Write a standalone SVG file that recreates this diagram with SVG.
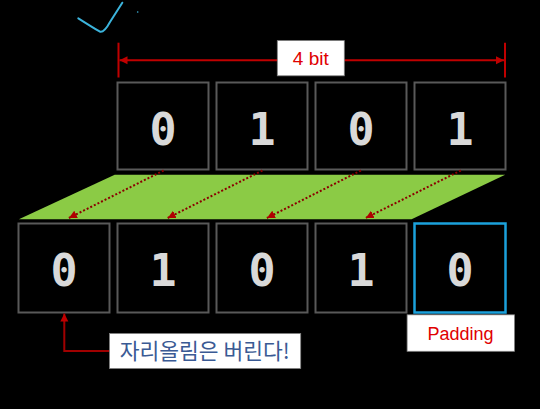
<svg xmlns="http://www.w3.org/2000/svg" width="540" height="409" viewBox="0 0 540 409">
<defs>
<style>
.box{fill:#000;stroke:#595959;stroke-width:2}
.pad{fill:#000;stroke:#1BA1DC;stroke-width:2.5}
.dig{font-family:"DejaVu Sans Mono","Liberation Mono",monospace;font-weight:bold;font-size:45px;fill:#D9D9D9;text-anchor:middle}
.shift{stroke:#8B0000;stroke-width:2;stroke-dasharray:2 2;fill:none}
.lbl{fill:#fff;stroke:#7F7F7F;stroke-width:0.8}
</style>
<marker id="dimA" viewBox="0 0 10 10" refX="10" refY="5" markerWidth="8" markerHeight="10" orient="auto" markerUnits="userSpaceOnUse">
<path d="M0,0 L10,5 L0,10 z" fill="#C00000"/>
</marker>
<marker id="shA" viewBox="0 0 10 10" refX="10" refY="5" markerWidth="8" markerHeight="10" orient="auto" markerUnits="userSpaceOnUse">
<path d="M0,0 L10,5 L0,10 z" fill="#B00000"/>
</marker>
</defs>
<rect width="540" height="409" fill="#000"/>

<g id="checkmark">
<path d="M78.3,18.3 Q92,27 100,31.7 Q104,33 110,22 L122.3,2.7" fill="none" stroke="#3CB4DC" stroke-width="2" stroke-linecap="round"/>
<circle cx="137.7" cy="12" r="0.8" fill="#3CB4DC"/>
</g>

<g id="shift-plane">
<polygon points="114.7,174.8 505.2,174.8 411.6,219.2 18.9,219.2" fill="#8BCB45"/>
</g>

<g id="top-row">
<g id="top0"><rect class="box" x="117.5" y="82.5" width="91" height="87"/><text class="dig" x="163" y="144.5">0</text></g>
<g id="top1"><rect class="box" x="216.5" y="82.5" width="91" height="87"/><text class="dig" x="262" y="144.5">1</text></g>
<g id="top2"><rect class="box" x="315.5" y="82.5" width="91" height="87"/><text class="dig" x="361" y="144.5">0</text></g>
<g id="top3"><rect class="box" x="414.5" y="82.5" width="91" height="87"/><text class="dig" x="460" y="144.5">1</text></g>
</g>

<g id="bottom-row">
<g id="bot0"><rect class="box" x="18.5" y="223.5" width="91" height="89"/><text class="dig" x="64" y="285.5">0</text></g>
<g id="bot1"><rect class="box" x="117.5" y="223.5" width="91" height="89"/><text class="dig" x="163" y="285.5">1</text></g>
<g id="bot2"><rect class="box" x="216.5" y="223.5" width="91" height="89"/><text class="dig" x="262" y="285.5">0</text></g>
<g id="bot3"><rect class="box" x="315.5" y="223.5" width="91" height="89"/><text class="dig" x="361" y="285.5">1</text></g>
<g id="bot4"><rect class="pad" x="414.5" y="223.5" width="91" height="89"/><text class="dig" x="460" y="285.5">0</text></g>
</g>

<g id="connectors">
<line class="shift" x1="163.6" y1="170.5" x2="68.9" y2="218" marker-end="url(#shA)"/>
<line class="shift" x1="262.4" y1="170.5" x2="167.7" y2="218" marker-end="url(#shA)"/>
<line class="shift" x1="360.9" y1="170.5" x2="266.9" y2="218" marker-end="url(#shA)"/>
<line class="shift" x1="460.8" y1="170.5" x2="365.7" y2="218" marker-end="url(#shA)"/>
<line x1="118.5" y1="42.7" x2="118.5" y2="77.5" stroke="#C00000" stroke-width="2"/>
<line x1="505" y1="42.7" x2="505" y2="77.5" stroke="#C00000" stroke-width="2"/>
<line x1="300" y1="60.3" x2="119.5" y2="60.3" stroke="#C00000" stroke-width="2" marker-end="url(#dimA)"/>
<line x1="300" y1="60.3" x2="504" y2="60.3" stroke="#C00000" stroke-width="2" marker-end="url(#dimA)"/>
<polyline points="109.5,351 64.3,351 64.3,313.5" fill="none" stroke="#A00000" stroke-width="2" marker-end="url(#dimA)"/>
</g>

<g id="label-4bit">
<rect class="lbl" x="277.3" y="40.6" width="67" height="35.2"/>
<text x="310.8" y="65" font-family="'Liberation Sans',Arial,sans-serif" font-size="19" fill="#E00000" text-anchor="middle">4 bit</text>
</g>

<g id="label-padding">
<rect class="lbl" x="407.1" y="314.8" width="107.4" height="36.5"/>
<text x="460.6" y="340" font-family="'Liberation Sans',Arial,sans-serif" font-size="18" fill="#E00000" text-anchor="middle">Padding</text>
</g>

<g id="label-carry">
<rect class="lbl" x="109.5" y="333.5" width="191.2" height="35"/>
<text x="204.7" y="358.5" font-family="'Noto Sans CJK KR','Noto Sans',sans-serif" font-size="21.5" fill="#3A5A94" text-anchor="middle">자리올림은 버린다!</text>
</g>
</svg>
